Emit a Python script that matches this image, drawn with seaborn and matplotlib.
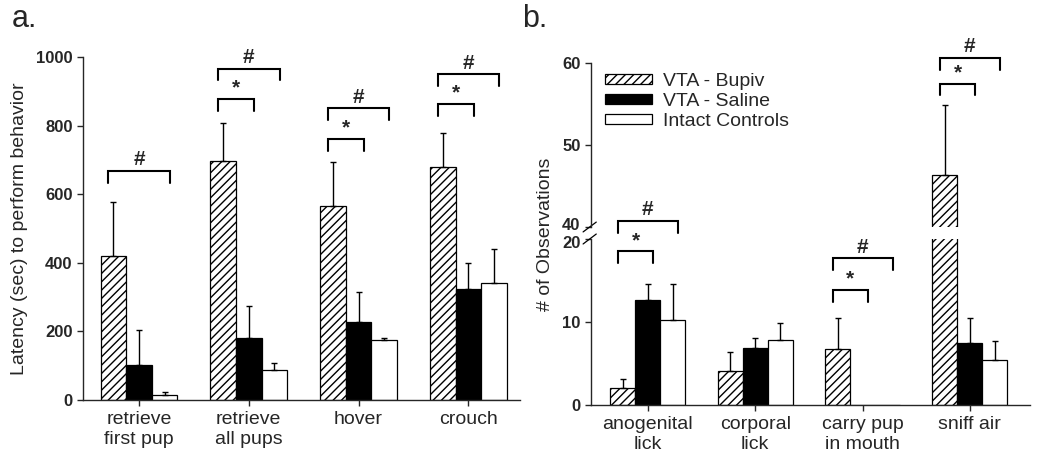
import numpy as np
import pandas as pd
import matplotlib
matplotlib.use("Agg")
import matplotlib.pyplot as plt
import matplotlib.transforms as mtransforms
import seaborn as sns

# ---------------- data ----------------
groups = ["VTA - Bupiv", "VTA - Saline", "Intact Controls"]

a_categories = ["retrieve\nfirst pup", "retrieve\nall pups", "hover", "crouch"]
a_bupiv = [421, 698, 566, 680]
a_saline = [102, 180, 228, 323]
a_intact = [15, 88, 175, 341]
a_bupiv_err = [155, 110, 128, 99]
a_saline_err = [102, 93, 87, 77]
a_intact_err = [7, 19, 7, 99]
a_yticks = [0, 200, 400, 600, 800, 1000]

b_categories = ["anogenital\nlick", "corporal\nlick", "carry pup\nin mouth", "sniff air"]
b_bupiv = [2.1, 4.1, 6.8, 46.4]
b_saline = [12.7, 6.9, 0.0, 7.5]
b_intact = [10.3, 7.8, 0.0, 5.4]
b_bupiv_err = [1.0, 2.3, 3.7, 8.5]
b_saline_err = [1.9, 1.2, 0.0, 3.0]
b_intact_err = [4.3, 2.1, 0.0, 2.3]
b_yticks_low = [0, 10, 20]
b_yticks_up = [40, 50, 60]

# significance brackets: category index, mark, bracket height
a_sig_cat = [0, 1, 1, 2, 2, 3, 3]
a_sig_mark = ["#", "*", "#", "*", "#", "*", "#"]
a_sig_y = [668, 878, 966, 761, 851, 863, 949]

b_sig_cat = [0, 0, 2, 2, 3, 3]
b_sig_mark = ["*", "#", "*", "#", "*", "#"]
b_sig_y = [18.5, 22.2, 13.9, 17.7, 57.5, 60.65]

# ---------------- style ----------------
sns.set_style("ticks")
plt.rcParams["font.family"] = ["Liberation Sans", "DejaVu Sans"]
plt.rcParams["hatch.linewidth"] = 1.0
plt.rcParams["axes.linewidth"] = 1.0

fills = ["white", "black", "white"]
palette = dict(zip(groups, fills))


def long_df(cats, s1, s2, s3):
    return pd.DataFrame({
        "category": list(cats) * 3,
        "group": [groups[0]] * len(cats) + [groups[1]] * len(cats) + [groups[2]] * len(cats),
        "value": list(s1) + list(s2) + list(s3),
    })


def draw_bars(ax, df, cats, errs):
    sns.barplot(data=df, x="category", y="value", hue="group", order=cats,
                hue_order=groups, palette=palette, saturation=1, edgecolor="black",
                linewidth=0.9, width=0.7, errorbar=None, legend=False, ax=ax)
    for bar in ax.containers[0]:
        bar.set_hatch("////")
    for cont, err in zip(ax.containers, errs):
        for bar, e in zip(cont, err):
            if e <= 0:
                continue
            x = bar.get_x() + bar.get_width() / 2
            h = bar.get_height()
            ax.errorbar([x], [h], yerr=[[0], [e]], fmt="none", ecolor="black",
                        elinewidth=1.0, capsize=2.3, capthick=1.0, zorder=1)
    ax.set_xlabel("")
    ax.set_ylabel("")
    ax.patch.set_facecolor("none")


def bracket(ax, cat, mark, y, drop):
    left = cat - 0.28
    right = cat + 0.05 if mark == "*" else cat + 0.28
    ax.plot([left, left, right, right], [y - drop, y, y, y - drop], color="black",
            lw=1.5, clip_on=False, solid_joinstyle="miter", zorder=5)
    ax.annotate(mark, xy=((left + right) / 2, y), xytext=(0, 1), textcoords="offset points",
                ha="center", va="bottom", fontsize=15, fontweight="bold",
                annotation_clip=False, zorder=5)


def style_yticks(ax):
    ax.tick_params(axis="y", length=4.5, width=1, labelsize=12, pad=3)
    for t in ax.get_yticklabels():
        t.set_fontweight("bold")


fig = plt.figure(figsize=(10.5, 4.57), dpi=100)
W, H = 1050, 457

# ---------------- panel a ----------------
ax_a = fig.add_axes([83 / W, 1 - 400 / H, 437 / W, 343 / H])
df_a = long_df(a_categories, a_bupiv, a_saline, a_intact)
draw_bars(ax_a, df_a, a_categories, [a_bupiv_err, a_saline_err, a_intact_err])
ax_a.set_xlim(-0.51, 3.47)
ax_a.set_ylim(0, 1000)
ax_a.set_yticks(a_yticks)
ax_a.set_ylabel("Latency (sec) to perform behavior", fontsize=14)
ax_a.yaxis.set_label_coords(-0.126, 0.5)
for c, m, y in zip(a_sig_cat, a_sig_mark, a_sig_y):
    bracket(ax_a, c, m, y, 34)
sns.despine(ax=ax_a)
ax_a.tick_params(axis="x", length=4, width=1, labelsize=14, pad=4)
style_yticks(ax_a)

# ---------------- panel b (broken axis) ----------------
ax_bu = fig.add_axes([591 / W, 1 - 227 / H, 439 / W, 164 / H])
ax_bl = fig.add_axes([591 / W, 1 - 405 / H, 439 / W, 166 / H])
df_b = long_df(b_categories, b_bupiv, b_saline, b_intact)
errs_b = [b_bupiv_err, b_saline_err, b_intact_err]
draw_bars(ax_bl, df_b, b_categories, errs_b)
draw_bars(ax_bu, df_b, b_categories, errs_b)
for ax in (ax_bl, ax_bu):
    ax.set_xlim(-0.53, 3.56)
ax_bl.set_ylim(0, 20)
ax_bu.set_ylim(40, 60)
ax_bl.set_yticks(b_yticks_low)
ax_bu.set_yticks(b_yticks_up)
sns.despine(ax=ax_bl)
sns.despine(ax=ax_bu, bottom=True)
ax_bu.tick_params(axis="x", bottom=False, labelbottom=False)
ax_bl.tick_params(axis="x", length=4, width=1, labelsize=14, pad=4)
style_yticks(ax_bl)
style_yticks(ax_bu)

# nudge the two labels at the axis break apart slightly
fig.canvas.draw()
up_shift = mtransforms.ScaledTranslation(0, 2.5 / 72, fig.dpi_scale_trans)
down_shift = mtransforms.ScaledTranslation(0, -2.5 / 72, fig.dpi_scale_trans)
lab40 = ax_bu.get_yticklabels()[0]
lab20 = ax_bl.get_yticklabels()[-1]
lab40.set_transform(lab40.get_transform() + up_shift)
lab20.set_transform(lab20.get_transform() + down_shift)

for c, m, y in zip(b_sig_cat, b_sig_mark, b_sig_y):
    target = ax_bu if y > 30 else ax_bl
    bracket(target, c, m, y, 1.45)

# break marks
for ax, yy in ((ax_bu, 0.0), (ax_bl, 1.0)):
    ax.plot([-0.018, 0.012], [yy - 0.03, yy + 0.03], transform=ax.transAxes,
            color="black", lw=0.9, clip_on=False)

fig.text(545 / W, 1 - 234 / H, "# of Observations", rotation=90, fontsize=14,
         ha="center", va="center")

leg = ax_bu.legend(ax_bu.containers, groups, loc="upper left",
                   bbox_to_anchor=(605 / W, 1 - 73 / H), bbox_transform=fig.transFigure,
                   frameon=False, fontsize=14, handlelength=2.4, handleheight=0.45,
                   handletextpad=0.6, labelspacing=0.15, borderpad=0, borderaxespad=0)

# panel labels
fig.text(12 / W, 1 - 27 / H, "a.", fontsize=22, va="baseline", ha="left")
fig.text(522 / W, 1 - 27 / H, "b.", fontsize=22, va="baseline", ha="left")

fig.savefig("out.png", dpi=100)
